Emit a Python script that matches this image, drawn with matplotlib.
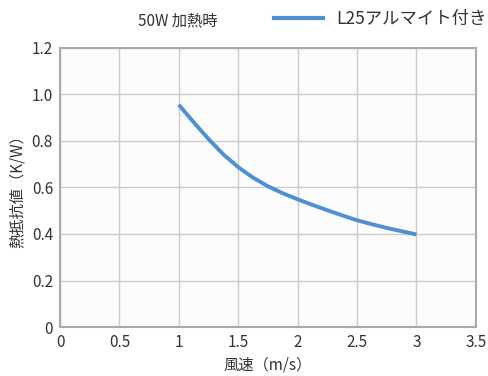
import matplotlib
matplotlib.use("Agg")
import matplotlib.pyplot as plt
from matplotlib.lines import Line2D

plt.rcParams['font.family'] = ['Noto Sans CJK JP', 'DejaVu Sans']

wind_speed = [1.0, 1.125, 1.25, 1.375, 1.5, 1.625, 1.75, 1.875, 2.0,
              2.125, 2.25, 2.375, 2.5, 2.625, 2.75, 2.875, 3.0]
thermal_res = [0.955, 0.880, 0.808, 0.742, 0.687, 0.642, 0.605, 0.575, 0.549,
               0.525, 0.502, 0.480, 0.459, 0.442, 0.426, 0.412, 0.398]
series_label = "L25アルマイト付き"
x_ticks = [0, 0.5, 1, 1.5, 2, 2.5, 3, 3.5]
x_tick_labels = ["0", "0.5", "1", "1.5", "2", "2.5", "3", "3.5"]
y_ticks = [0, 0.2, 0.4, 0.6, 0.8, 1.0, 1.2]
y_tick_labels = ["0", "0.2", "0.4", "0.6", "0.8", "1.0", "1.2"]

text_c = "#333333"
line_c = "#4f8fd4"
fig = plt.figure(figsize=(4.88, 3.76), dpi=100)
ax = fig.add_axes([0.123, 0.130, 0.852, 0.743])
ax.set_facecolor("#fcfcfc")
ax.plot(wind_speed, thermal_res, color=line_c, lw=2.8, solid_capstyle="butt",
        solid_joinstyle="round")
ax.set_xlim(0, 3.5)
ax.set_ylim(0, 1.2)
ax.set_xticks(x_ticks)
ax.set_xticklabels(x_tick_labels)
ax.set_yticks(y_ticks)
ax.set_yticklabels(y_tick_labels)
ax.grid(True, color="#cccccc", lw=1)
ax.set_axisbelow(True)
for s in ax.spines.values():
    s.set_color("#aaaaaa")
    s.set_linewidth(1.5)
ax.tick_params(length=0, pad=5, labelsize=11, colors=text_c)
ax.set_xlabel("風速（m/s）", fontsize=11, color=text_c, labelpad=4)
ax.set_ylabel("熱抵抗値（K/W）", fontsize=11, color=text_c, labelpad=4)

fig.text(0.365, 0.945, "50W 加熱時", fontsize=11, color=text_c, ha="center", va="center")
fig.legend(handles=[Line2D([], [], color=line_c, lw=3)], labels=[series_label],
           loc="center", bbox_to_anchor=(0.78, 0.95), frameon=False, fontsize=12.5,
           handlelength=2.8, handletextpad=0.8, labelcolor=text_c)
fig.savefig("out.png", dpi=100)
